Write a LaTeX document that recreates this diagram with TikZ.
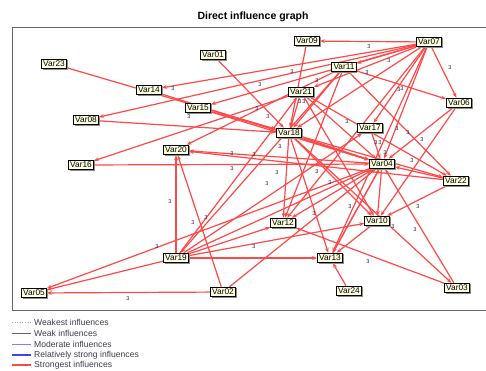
\documentclass[tikz,border=0pt]{standalone}
\usepackage{fontspec}
\setmainfont{Liberation Sans}
\usetikzlibrary{arrows.meta,shadows,backgrounds}
\definecolor{edgered}{RGB}{255,72,72}
\definecolor{nodefill}{RGB}{255,255,226}
\definecolor{lblcol}{RGB}{30,30,70}
\definecolor{legtext}{RGB}{60,60,85}
\tikzset{
  var/.style={draw=black, fill=nodefill, line width=0.8pt,
    font=\fontsize{8.3}{8.3}\selectfont, inner sep=1.7pt, text height=6pt, text depth=0.3pt,
    drop shadow={shadow xshift=1.3pt, shadow yshift=-1.3pt, fill=black!45, opacity=1}},
  e/.style={draw=edgered, line width=1.2pt, -{Stealth[length=5pt,width=3.8pt]}},
  lbl/.style={font=\fontsize{5.5}{5.5}\selectfont, text=lblcol, inner sep=0pt},
  leg/.style={font=\fontsize{8.6}{9}\selectfont, text=legtext, anchor=west, inner sep=0pt},
}
\begin{document}
\begin{tikzpicture}[x=1pt,y=-1pt]
\useasboundingbox (0,0) rectangle (486,370);
\node[font=\bfseries\fontsize{10.5}{11}\selectfont] (title) at (253,17) {Direct influence graph};
\draw[black!60, line width=1pt] (12,27) rectangle (500,310);

% nodes
\node[var] (v09) at (307,41) {Var09};
\node[var] (v07) at (429,42) {Var07};
\node[var] (v01) at (213,55) {Var01};
\node[var] (v23) at (54,64) {Var23};
\node[var] (v11) at (344,67) {Var11};
\node[var] (v14) at (149,90) {Var14};
\node[var] (v21) at (301,92) {Var21};
\node[var] (v06) at (459,103) {Var06};
\node[var] (v15) at (198,108) {Var15};
\node[var] (v08) at (86,120) {Var08};
\node[var] (v17) at (370,128) {Var17};
\node[var] (v18) at (289,133) {Var18};
\node[var] (v20) at (176,150) {Var20};
\node[var] (v16) at (81,165) {Var16};
\node[var] (v04) at (382,164) {Var04};
\node[var] (v22) at (456,181) {Var22};
\node[var] (v12) at (283,223) {Var12};
\node[var] (v10) at (377,221) {Var10};
\node[var] (v19) at (176,258) {Var19};
\node[var] (v13) at (330,258) {Var13};
\node[var] (v05) at (34,293) {Var05};
\node[var] (v02) at (223,292) {Var02};
\node[var] (v24) at (349,291) {Var24};
\node[var] (v03) at (457,288) {Var03};

% connectors
\begin{scope}[on background layer]
\foreach \a/\b in {
  v07/v09, v07/v14, v07/v08, v07/v15, v07/v11, v07/v21, v07/v18, v07/v06,
  v07/v17, v07/v04, v07/v13, v07/v12,
  v11/v20, v11/v06, v11/v22, v11/v18, v11/v19, v11/v12,
  v21/v16, v21/v18, v21/v04, v21/v10, v21/v22,
  v09/v18, v01/v18, v23/v18, v14/v04, v15/v18, v15/v04, v08/v18, v16/v04,
  v04/v20, v22/v20, v17/v04, v06/v04, v06/v10,
  v18/v04, v18/v22, v18/v10, v18/v12, v18/v13, v18/v03,
  v04/v10, v04/v05, v04/v13, v04/v12, v22/v10, v22/v04,
  v19/v20, v19/v05, v19/v13, v19/v12, v19/v10, v19/v04, v19/v21, v19/v17,
  v02/v05, v02/v20, v02/v04, v13/v04, v24/v13, v03/v04, v03/v12, v10/v13}
  \draw[e] (\a) -- (\b);
\end{scope}

% edge labels
\foreach \x/\y in {369/47, 389/61, 292/72, 317/81, 367/73, 399/90, 402/89, 450/68,
  300/102, 304/102, 260/85, 257/109, 268/117, 173/89, 189/117, 280/147, 347/122,
  397/129, 408/133, 422/140, 376/143, 380/143, 385/153, 412/161, 232/154, 232/169,
  254/155, 277/173, 267/184, 317/172, 330/183, 350/207, 314/214, 418/207, 393/227,
  415/230, 368/262, 254/247, 170/202, 193/223, 206/218, 157/247, 128/299}
  \node[lbl] at (\x,\y) {3};

% legend
\draw[black!35, dotted, line width=0.6pt] (12,322) -- (31,322);
\node[leg] (l1) at (34,322) {Weakest influences};
\draw[black!60, line width=0.6pt] (12,333) -- (31,333);
\node[leg] (l2) at (34,333) {Weak influences};
\draw[blue!50, line width=0.8pt] (12,344) -- (31,344);
\node[leg] (l3) at (34,344) {Moderate influences};
\draw[blue!75, line width=1.6pt] (12,355) -- (31,355);
\node[leg] (l4) at (34,355) {Relatively strong influences};
\draw[edgered, line width=1.6pt] (12,365) -- (31,365);
\node[leg] (l5) at (34,365) {Strongest influences};
\end{tikzpicture}
\end{document}
